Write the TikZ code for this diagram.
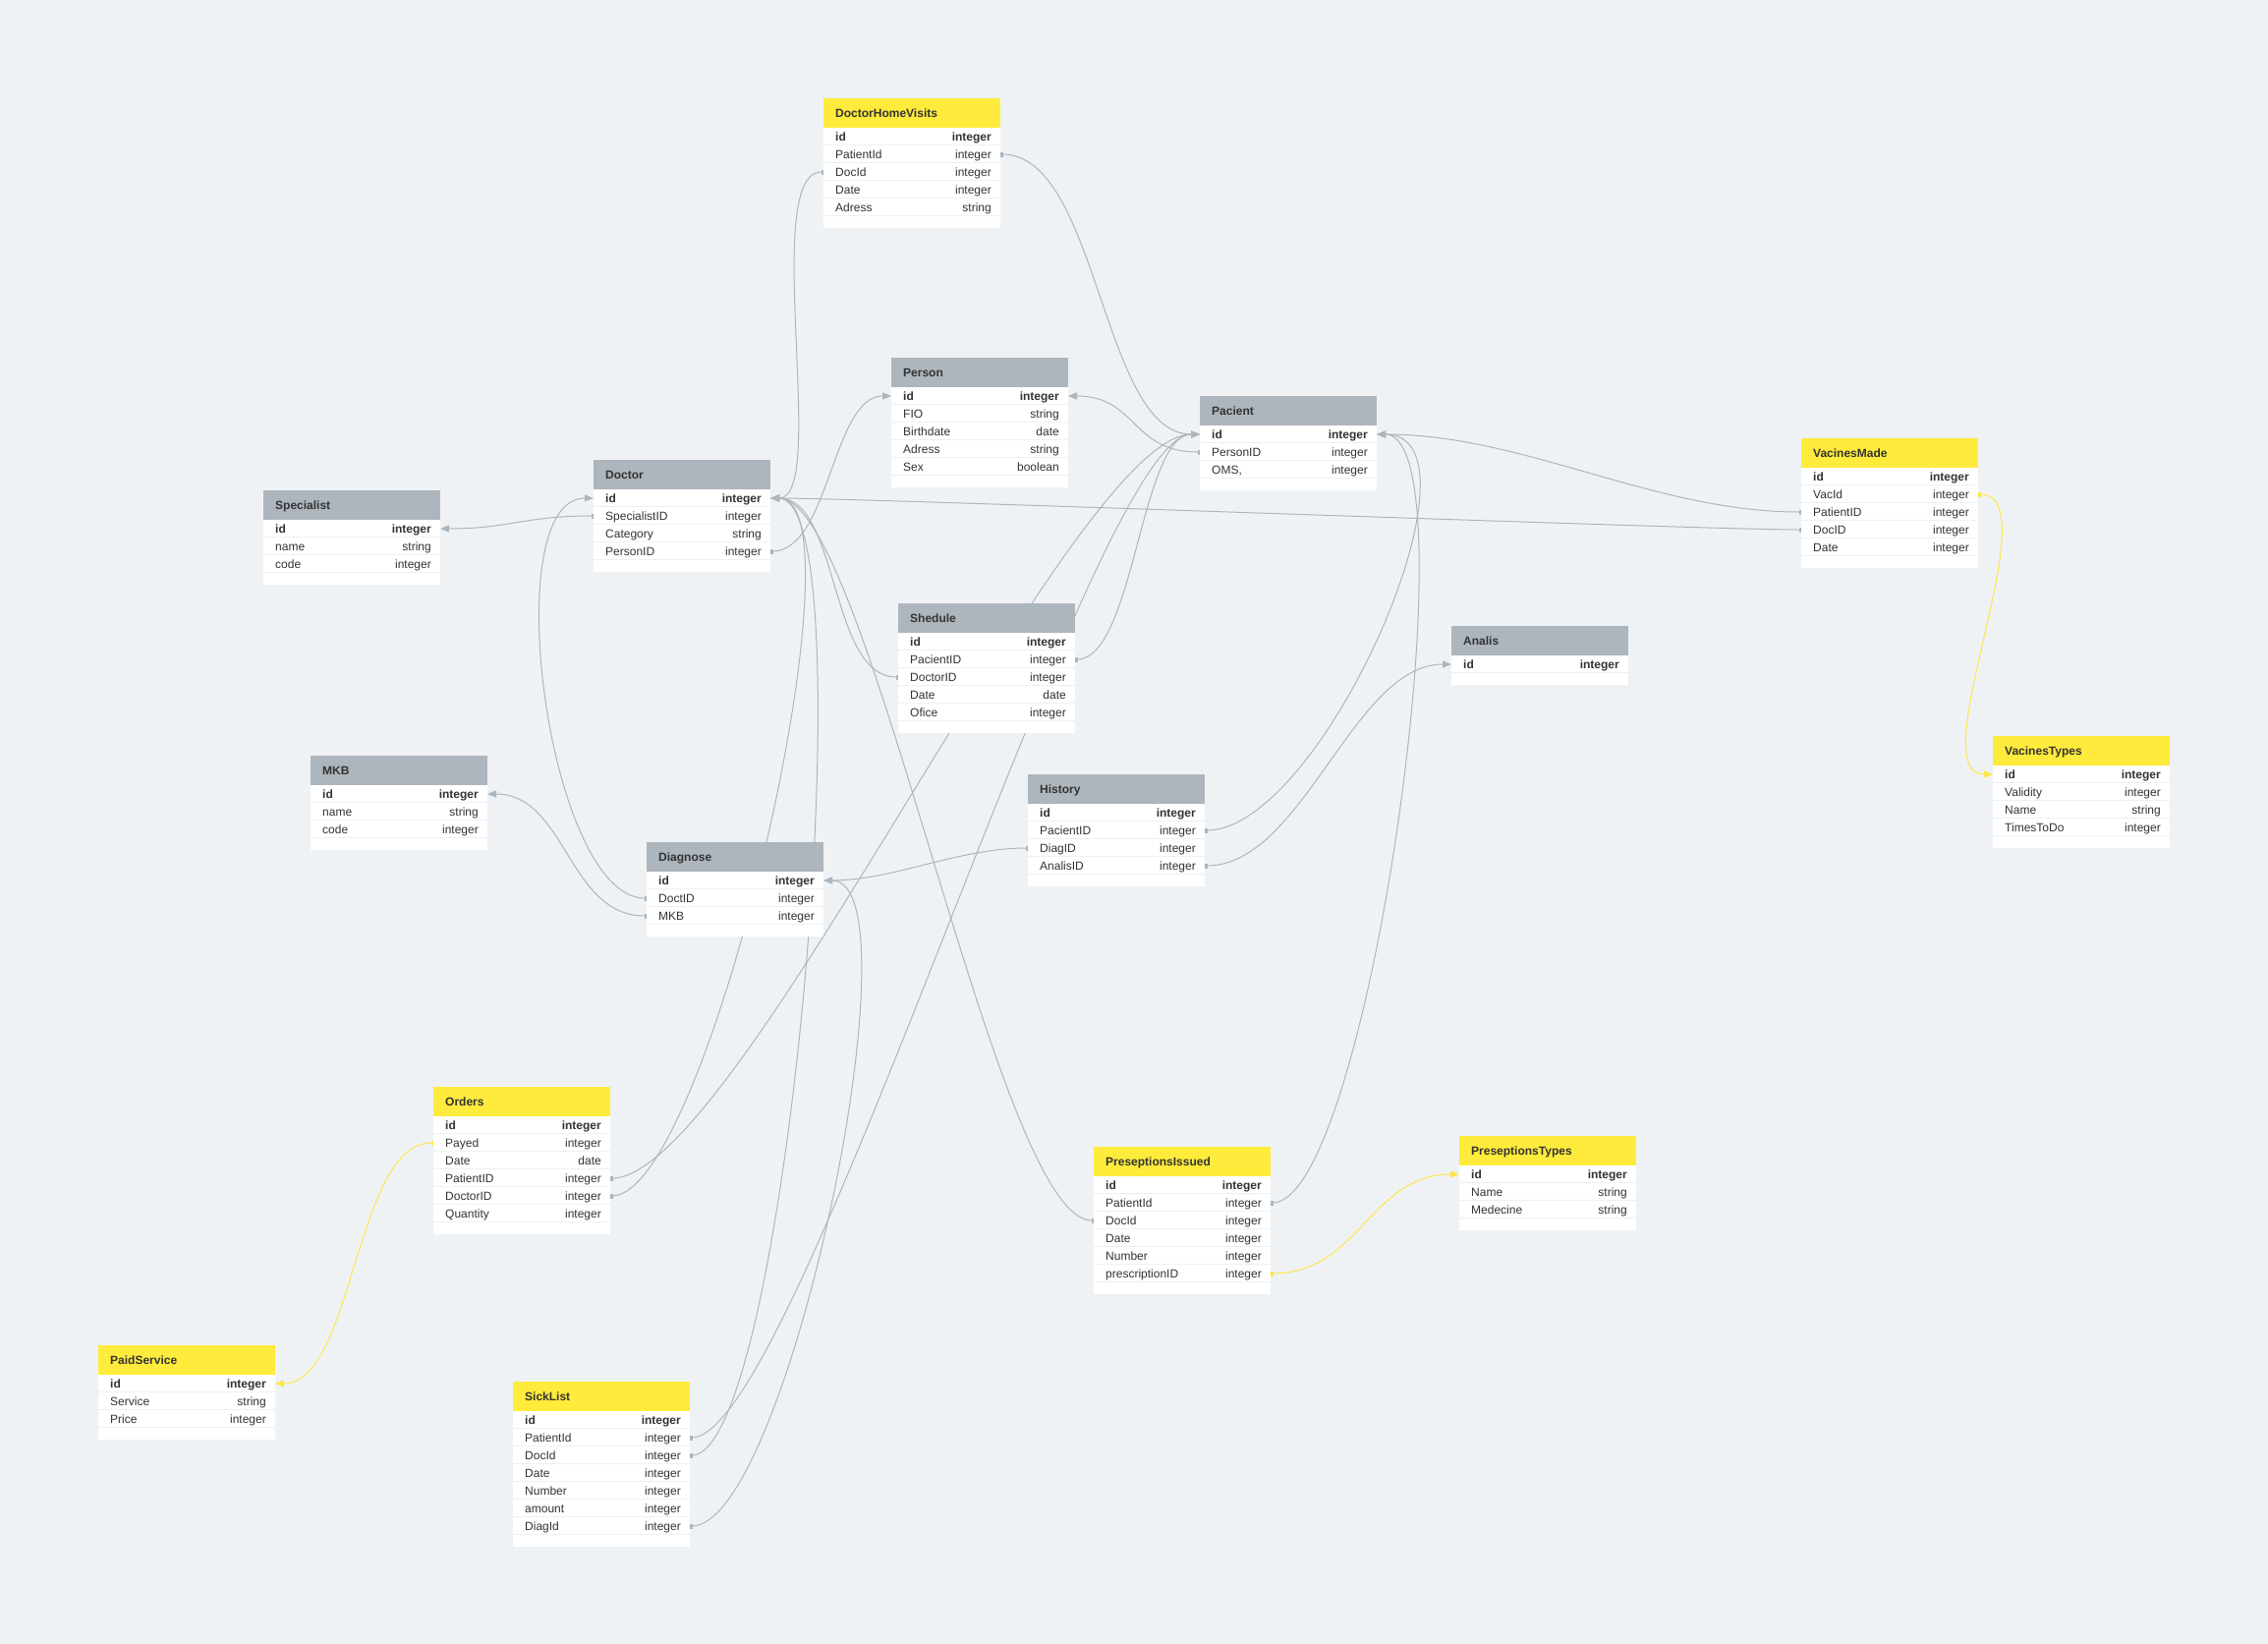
\documentclass[tikz,border=0pt]{standalone}
\usepackage{fontspec}
\setmainfont{Liberation Sans}
\usepackage{xcolor}
\usepackage{tikz}
\usetikzlibrary{arrows.meta,positioning,calc}

\definecolor{canvas}{HTML}{EFF2F5}
\definecolor{headgray}{HTML}{ADB5BD}
\definecolor{headyellow}{HTML}{FFEB3B}
\definecolor{linkgray}{HTML}{ADB5BD}
\definecolor{linkyellow}{HTML}{FDE74A}
\definecolor{inkdark}{HTML}{333333}
\definecolor{rowline}{HTML}{EDF0F3}

\pgfdeclarelayer{canvas}
\pgfdeclarelayer{links}
\pgfsetlayers{canvas,links,main}

% one table: name, top-left, header colour, title, number of fields, fields
\newcommand{\dbtable}[6]{%
  \node[tabhead, fill=#3] (#1) at (#2) {};
  \node[tabtitle] at ([xshift=12pt]#1.west) {#4};
  \fill[white] (#1.south west) rectangle ++(180,{18*#5+12});
  \foreach \fname/\ftype [count=\i] in {#6} {
    \node[tabrow] (#1-\i) at ([yshift={-(\i-1)*18pt}]#1.south west) {};
    \draw[rowsep] ([yshift=0.75pt]#1-\i.south west) -- ([yshift=0.75pt]#1-\i.south east);
    \node[fieldname] at ([xshift=12pt]#1-\i.west) {\ifnum\i=1 \bfseries\fi\fname};
    \node[fieldtype] at ([xshift=-9pt]#1-\i.east) {\ifnum\i=1 \bfseries\fi\ftype};
  }%
}

\begin{document}
\begin{tikzpicture}[
  x=1pt, y=-1pt,
  tabhead/.style={anchor=north west, minimum width=180pt, minimum height=30pt, inner sep=0pt, outer sep=0pt},
  tabtitle/.style={anchor=west, inner sep=0pt, text height=8.5pt, text depth=0pt, font=\fontsize{12}{14}\selectfont\bfseries, text=inkdark},
  tabrow/.style={anchor=north west, minimum width=180pt, minimum height=18pt, inner sep=0pt, outer sep=0pt, fill=white},
  rowsep/.style={draw=rowline, line width=1.5pt},
  fieldname/.style={anchor=west, inner sep=0pt, text height=8.5pt, text depth=0pt, font=\fontsize{12}{14}\selectfont, text=inkdark},
  fieldtype/.style={fieldname, anchor=east},
  link/.style={draw=linkgray, line width=1pt, {Rectangle[length=2.5pt,width=5pt]}-{Triangle[length=9pt,width=7pt]}},
  ylink/.style={link, draw=linkyellow}
]
\useasboundingbox (0,0) rectangle (2308,1673);
\begin{pgfonlayer}{canvas}
  \fill[canvas] (0,0) rectangle (2308,1673);
\end{pgfonlayer}

\dbtable{dhv}{838,100}{headyellow}{DoctorHomeVisits}{5}{id/integer, PatientId/integer, DocId/integer, Date/integer, Adress/string}
\dbtable{person}{907,364}{headgray}{Person}{5}{id/integer, FIO/string, Birthdate/date, Adress/string, Sex/boolean}
\dbtable{pacient}{1221,403}{headgray}{Pacient}{3}{id/integer, PersonID/integer, {OMS,}/integer}
\dbtable{specialist}{268,499}{headgray}{Specialist}{3}{id/integer, name/string, code/integer}
\dbtable{doctor}{604,468}{headgray}{Doctor}{4}{id/integer, SpecialistID/integer, Category/string, PersonID/integer}
\dbtable{vmade}{1833,446}{headyellow}{VacinesMade}{5}{id/integer, VacId/integer, PatientID/integer, DocID/integer, Date/integer}
\dbtable{shedule}{914,614}{headgray}{Shedule}{5}{id/integer, PacientID/integer, DoctorID/integer, Date/date, Ofice/integer}
\dbtable{analis}{1477,637}{headgray}{Analis}{1}{id/integer}
\dbtable{mkb}{316,769}{headgray}{MKB}{3}{id/integer, name/string, code/integer}
\dbtable{vtypes}{2028,749}{headyellow}{VacinesTypes}{4}{id/integer, Validity/integer, Name/string, TimesToDo/integer}
\dbtable{history}{1046,788}{headgray}{History}{4}{id/integer, PacientID/integer, DiagID/integer, AnalisID/integer}
\dbtable{diagnose}{658,857}{headgray}{Diagnose}{3}{id/integer, DoctID/integer, MKB/integer}
\dbtable{orders}{441,1106}{headyellow}{Orders}{6}{id/integer, Payed/integer, Date/date, PatientID/integer, DoctorID/integer, Quantity/integer}
\dbtable{pissued}{1113,1167}{headyellow}{PreseptionsIssued}{6}{id/integer, PatientId/integer, DocId/integer, Date/integer, Number/integer, prescriptionID/integer}
\dbtable{ptypes}{1485,1156}{headyellow}{PreseptionsTypes}{3}{id/integer, Name/string, Medecine/string}
\dbtable{paid}{100,1369}{headyellow}{PaidService}{3}{id/integer, Service/string, Price/integer}
\dbtable{sick}{522,1406}{headyellow}{SickList}{7}{id/integer, PatientId/integer, DocId/integer, Date/integer, Number/integer, amount/integer, DiagId/integer}

% relations, drawn behind the tables
\begin{pgfonlayer}{links}
\draw[link] (dhv-2.east) .. controls +(100,0) and +(-100,0) .. (pacient-1.west);
\draw[link] (dhv-3.west) .. controls +(-65,0) and +(60,0) .. (doctor-1.east);
\draw[link] (doctor-4.east) .. controls +(60,0) and +(-60,0) .. (person-1.west);
\draw[link] (doctor-2.west) .. controls +(-70,0) and +(70,0) .. (specialist-1.east);
\draw[link] (pacient-2.west) .. controls +(-70,0) and +(70,0) .. (person-1.east);
\draw[link] (shedule-2.east) .. controls +(60,0) and +(-60,0) .. (pacient-1.west);
\draw[link] (shedule-3.west) .. controls +(-70,0) and +(70,0) .. (doctor-1.east);
\draw[link] (vmade-4.west) .. controls +(-100,0) and +(100,0) .. (doctor-1.east);
\draw[link] (vmade-3.west) .. controls +(-150,0) and +(150,0) .. (pacient-1.east);
\draw[link] (history-2.east) .. controls +(120,0) and +(120,0) .. (pacient-1.east);
\draw[link] (pissued-2.east) .. controls +(100,0) and +(100,0) .. (pacient-1.east);
\draw[link] (pissued-3.west) .. controls +(-100,0) and +(100,0) .. (doctor-1.east);
\draw[link] (orders-5.east) .. controls +(100,0) and +(100,0) .. (doctor-1.east);
\draw[link] (orders-4.east) .. controls +(130,0) and +(-130,0) .. (pacient-1.west);
\draw[link] (sick-2.east) .. controls +(110,0) and +(-110,0) .. (pacient-1.west);
\draw[link] (sick-3.east) .. controls +(100,0) and +(100,0) .. (doctor-1.east);
\draw[link] (sick-7.east) .. controls +(100,0) and +(100,0) .. (diagnose-1.east);
\draw[link] (history-3.west) .. controls +(-70,0) and +(70,0) .. (diagnose-1.east);
\draw[link] (history-4.east) .. controls +(100,0) and +(-100,0) .. (analis-1.west);
\draw[link] (diagnose-2.west) .. controls +(-100,0) and +(-100,0) .. (doctor-1.west);
\draw[link] (diagnose-3.west) .. controls +(-80,0) and +(80,0) .. (mkb-1.east);
\draw[ylink] (vmade-2.east) .. controls +(75,0) and +(-75,0) .. (vtypes-1.west);
\draw[ylink] (orders-2.west) .. controls +(-80,0) and +(80,0) .. (paid-1.east);
\draw[ylink] (pissued-6.east) .. controls +(90,0) and +(-90,0) .. (ptypes-1.west);
\end{pgfonlayer}

\end{tikzpicture}
\end{document}
